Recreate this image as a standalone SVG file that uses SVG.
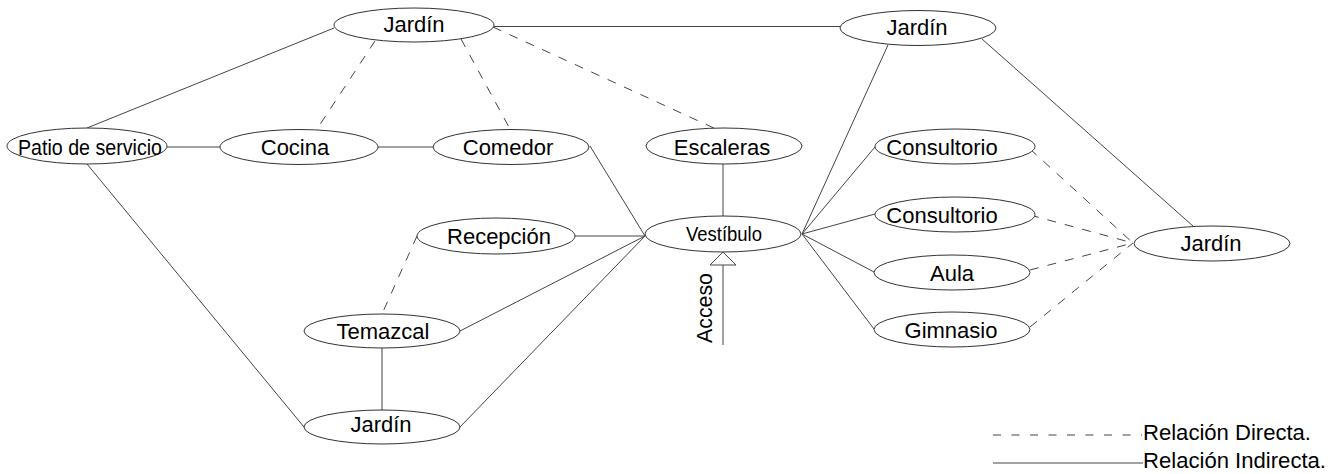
<svg xmlns="http://www.w3.org/2000/svg" width="1328" height="474" viewBox="0 0 1328 474">
<style>
.n ellipse{fill:#fff;stroke:#333;stroke-width:1}
text{font-family:"Liberation Sans",Arial,sans-serif;font-size:22px;fill:#000;text-anchor:middle}
.c line{stroke:#444;stroke-width:1;fill:none}
.c .d{stroke-dasharray:9 9}
</style>
<rect width="1328" height="474" fill="#fff"/>
<g class="c" id="connectors">
<line x1="334" y1="28" x2="87" y2="128"/>
<line x1="494" y1="26.5" x2="840" y2="26.5"/>
<line x1="167" y1="147" x2="220" y2="147"/>
<line x1="378" y1="147" x2="433" y2="147"/>
<line x1="87" y1="164" x2="304" y2="427"/>
<line x1="590" y1="146" x2="645" y2="236"/>
<line x1="723" y1="164" x2="723" y2="216"/>
<line x1="575" y1="236" x2="645" y2="236"/>
<line x1="460" y1="331" x2="645" y2="236"/>
<line x1="460" y1="427" x2="645" y2="236"/>
<line x1="382" y1="348" x2="382" y2="410"/>
<line x1="888" y1="45" x2="802" y2="234"/>
<line x1="982" y1="39" x2="1193" y2="226"/>
<line x1="802" y1="234" x2="875" y2="147"/>
<line x1="802" y1="234" x2="875" y2="214"/>
<line x1="802" y1="234" x2="874" y2="272"/>
<line x1="802" y1="234" x2="874" y2="329"/>
<line x1="723" y1="265" x2="723" y2="345"/>
<polygon points="723,252 710,265 736,265" fill="#fff" stroke="#444" stroke-width="1"/>
<line class="d" x1="375" y1="41" x2="317" y2="129"/>
<line class="d" x1="461" y1="39" x2="510" y2="129"/>
<line class="d" x1="493" y1="27" x2="716" y2="129"/>
<line class="d" x1="417" y1="236" x2="382" y2="314"/>
<line class="d" x1="1030" y1="149" x2="1133" y2="243"/>
<line class="d" x1="1030" y1="215" x2="1133" y2="243"/>
<line class="d" x1="1030" y1="270" x2="1133" y2="243"/>
<line class="d" x1="1030" y1="327" x2="1133" y2="243"/>
<line x1="993" y1="435" x2="1142" y2="435" stroke-dasharray="8 10.5"/>
<line x1="993" y1="463" x2="1143" y2="463"/>
</g>
<g class="n" id="jardin-top"><ellipse cx="414" cy="25" rx="80" ry="17"/><text x="414" y="32">Jardín</text></g>
<g class="n" id="jardin-topright"><ellipse cx="918" cy="28" rx="78" ry="17.5"/><text x="917" y="35">Jardín</text></g>
<g class="n" id="patio"><ellipse cx="87" cy="146" rx="80" ry="18"/><text x="90" y="155" textLength="144" lengthAdjust="spacingAndGlyphs">Patio de servicio</text></g>
<g class="n" id="cocina"><ellipse cx="299" cy="147" rx="79" ry="17.5"/><text x="295" y="155">Cocina</text></g>
<g class="n" id="comedor"><ellipse cx="511" cy="147" rx="78" ry="17.5"/><text x="508" y="155">Comedor</text></g>
<g class="n" id="escaleras"><ellipse cx="724" cy="146" rx="78" ry="18"/><text x="722" y="155">Escaleras</text></g>
<g class="n" id="consultorio1"><ellipse cx="955" cy="146.5" rx="80" ry="17.5"/><text x="942" y="155">Consultorio</text></g>
<g class="n" id="consultorio2"><ellipse cx="955" cy="214.5" rx="80" ry="17.5"/><text x="942" y="223">Consultorio</text></g>
<g class="n" id="vestibulo"><ellipse cx="723" cy="234" rx="78" ry="18"/><text x="724" y="241" style="font-size:20px" textLength="76" lengthAdjust="spacingAndGlyphs">Vestíbulo</text></g>
<g class="n" id="recepcion"><ellipse cx="496" cy="236" rx="79" ry="18"/><text x="499" y="244">Recepción</text></g>
<g class="n" id="aula"><ellipse cx="952" cy="272.5" rx="78" ry="17.5"/><text x="952" y="281">Aula</text></g>
<g class="n" id="gimnasio"><ellipse cx="952" cy="329.5" rx="78" ry="17.5"/><text x="951" y="338">Gimnasio</text></g>
<g class="n" id="jardin-right"><ellipse cx="1212" cy="243.5" rx="78" ry="17.5"/><text x="1211" y="251">Jardín</text></g>
<g class="n" id="temazcal"><ellipse cx="382" cy="331" rx="78" ry="17"/><text x="383" y="339">Temazcal</text></g>
<g class="n" id="jardin-bottom"><ellipse cx="382" cy="427" rx="78" ry="17"/><text x="381" y="432">Jardín</text></g>
<g id="acceso"><text transform="translate(712,308) rotate(-90)" textLength="70" lengthAdjust="spacingAndGlyphs">Acceso</text></g>
<g id="legend">
<text x="1143" y="440" style="text-anchor:start" textLength="168" lengthAdjust="spacingAndGlyphs">Relación Directa.</text>
<text x="1143" y="468" style="text-anchor:start" textLength="183" lengthAdjust="spacingAndGlyphs">Relación Indirecta.</text>
</g>
</svg>
